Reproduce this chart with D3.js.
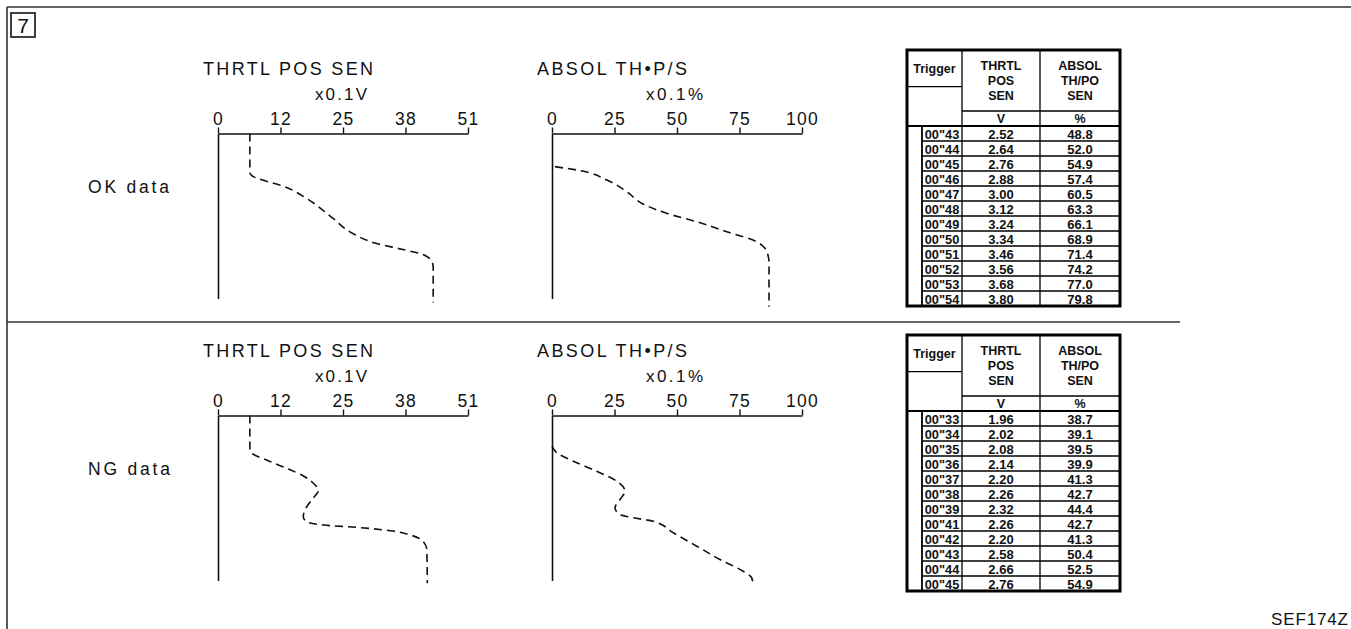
<!DOCTYPE html>
<html>
<head>
<meta charset="utf-8">
<script src="https://cdn.jsdelivr.net/npm/d3@7"></script>
<style>
  body { margin: 0; background: #fff; }
  svg { display: block; }
  text { font-family: "Liberation Sans", Arial, Helvetica, sans-serif; fill: #111; }
</style>
</head>
<body>
<div id="chart"></div>
<script>
// axis ticks (labels are rounded quarter points of the range)
const thrtlTicks = [0, 12.75, 25.5, 38.25, 51];
const thrtlTickLabels = ["0", "12", "25", "38", "51"];
const absolTicks = [0, 25, 50, 75, 100];
const absolTickLabels = ["0", "25", "50", "75", "100"];

// traces: [reading, time]  time runs 0..100 down the vertical axis
const okThrtlCurve = [[6.5,0],[6.5,23.6],[6.9,25.5],[14.0,32.7],[18.1,39.4],[23.5,51.5],[27.5,60.6],
  [32.4,66.7],[37.7,70.3],[41.8,73.3],[43.6,77.5],[43.9,81],[43.9,102.4]];
const okAbsolCurve = [[1.2,20.1],[11.2,22.5],[21.9,28.2],[29.9,35.3],[36.4,42.7],[45.9,48.4],[57.9,53.5],
  [69.9,59.5],[81.9,65.6],[85.2,69.6],[86.5,74.5],[86.8,78],[86.8,105]];
const ngThrtlCurve = [[6.5,0],[6.5,20.9],[6.9,22.9],[9.9,27.0],[14.0,32.0],[17.7,37.1],[19.8,42.1],
  [20.5,45.2],[19.4,50.2],[18.1,55.3],[17.4,61.3],[18.1,64.4],[21.5,66.4],[28.3,67.8],[35.1,69.8],
  [39.2,72.4],[41.9,76.5],[42.6,81.5],[42.7,101.7]];
const ngAbsolCurve = [[0,18.6],[1.9,22.6],[8.5,27.7],[17.9,33.8],[25.9,39.8],[29.2,45.9],[27.2,50.9],
  [25.2,55.9],[27.2,60.0],[32.5,62.0],[40.5,64.1],[48.5,71.1],[57.9,79.2],[67.2,87.3],[76.5,94.4],
  [79.9,98.4],[80.5,103.5]];

// freeze frame tables
const okTimes = ['00"43','00"44','00"45','00"46','00"47','00"48','00"49','00"50','00"51','00"52','00"53','00"54'];
const okThrtl = [2.52, 2.64, 2.76, 2.88, 3.00, 3.12, 3.24, 3.34, 3.46, 3.56, 3.68, 3.80];
const okAbsol = [48.8, 52.0, 54.9, 57.4, 60.5, 63.3, 66.1, 68.9, 71.4, 74.2, 77.0, 79.8];
const ngTimes = ['00"33','00"34','00"35','00"36','00"37','00"38','00"39','00"41','00"42','00"43','00"44','00"45'];
const ngThrtl = [1.96, 2.02, 2.08, 2.14, 2.20, 2.26, 2.32, 2.26, 2.20, 2.58, 2.66, 2.76];
const ngAbsol = [38.7, 39.1, 39.5, 39.9, 41.3, 42.7, 44.4, 42.7, 41.3, 50.4, 52.5, 54.9];

const width = 1351, height = 629;
const svg = d3.select("#chart").append("svg")
  .attr("width", width)
  .attr("height", height);

// frame
const frame = svg.append("g").attr("stroke", "#333").attr("stroke-width", 1.6);
frame.append("line").attr("x1", 7).attr("x2", width).attr("y1", 7).attr("y2", 7);
frame.append("line").attr("x1", 7).attr("x2", 7).attr("y1", 7).attr("y2", height);
frame.append("line").attr("x1", 7).attr("x2", 1180).attr("y1", 322).attr("y2", 322);

svg.append("rect").attr("x", 11).attr("y", 13).attr("width", 24).attr("height", 24)
  .attr("fill", "none").attr("stroke", "#111").attr("stroke-width", 1.6);
svg.append("text").attr("x", 23).attr("y", 32.5).attr("text-anchor", "middle")
  .attr("font-size", 21).text("7");

svg.append("text").attr("x", 1348).attr("y", 625).attr("text-anchor", "end")
  .attr("font-size", 17).attr("textLength", 77).attr("lengthAdjust", "spacing").text("SEF174Z");

const PW = 250, PH = 165;

function panel(x0, y0, o) {
  const g = svg.append("g");
  const xs = d3.scaleLinear().domain(o.domain).range([x0, x0 + PW]);
  const ys = d3.scaleLinear().domain([0, 100]).range([y0, y0 + PH]);

  g.append("text").attr("x", x0 + o.titleDx).attr("y", y0 - 59)
    .attr("font-size", 18).attr("textLength", o.titleW).attr("lengthAdjust", "spacing").text(o.title);
  g.append("text").attr("x", x0 + o.unitDx).attr("y", y0 - 34)
    .attr("font-size", 17).attr("textLength", o.unitW).attr("lengthAdjust", "spacing").text(o.unit);

  const ax = g.append("g").attr("transform", `translate(0,${y0})`)
    .call(d3.axisTop(xs).tickValues(o.ticks).tickFormat((d, i) => o.labels[i])
      .tickSize(6).tickSizeOuter(0).tickPadding(3));
  ax.select(".domain").attr("stroke", "#111").attr("stroke-width", 1.6);
  ax.selectAll(".tick line").attr("stroke", "#111").attr("stroke-width", 1.4);
  ax.selectAll(".tick text").attr("font-size", 17.5).attr("letter-spacing", "1.2px")
    .attr("font-family", null).attr("fill", "#111");

  const ay = g.append("g").attr("transform", `translate(${x0},0)`)
    .call(d3.axisLeft(ys).tickValues([]).tickSizeOuter(0));
  ay.select(".domain").attr("stroke", "#111").attr("stroke-width", 1.6);

  const line = d3.line().x(d => xs(d[0])).y(d => ys(d[1])).curve(d3.curveMonotoneY);
  g.append("path").datum(o.curve)
    .attr("d", line)
    .attr("fill", "none")
    .attr("stroke", "#111")
    .attr("stroke-width", 1.6)
    .attr("stroke-dasharray", "8,5");
}

const thrtlOpts = {domain: [0, 51], ticks: thrtlTicks, labels: thrtlTickLabels,
  title: "THRTL POS SEN", titleDx: -15, titleW: 170, unit: "x0.1V", unitDx: 97, unitW: 52};
const absolOpts = {domain: [0, 100], ticks: absolTicks, labels: absolTickLabels,
  title: "ABSOL TH\u2022P/S", titleDx: -15, titleW: 150, unit: "x0.1%", unitDx: 94, unitW: 57};

const rowsY = [133.5, 415.5];
panel(218, rowsY[0], {...thrtlOpts, curve: okThrtlCurve});
panel(552, rowsY[0], {...absolOpts, curve: okAbsolCurve});
panel(218, rowsY[1], {...thrtlOpts, curve: ngThrtlCurve});
panel(552, rowsY[1], {...absolOpts, curve: ngAbsolCurve});

svg.append("text").attr("x", 88).attr("y", 193).attr("font-size", 17.5)
  .attr("textLength", 81).attr("lengthAdjust", "spacing").text("OK data");
svg.append("text").attr("x", 88).attr("y", 475).attr("font-size", 17.5)
  .attr("textLength", 82).attr("lengthAdjust", "spacing").text("NG data");

// tables
function table(top, times, thr, abs) {
  const g = svg.append("g");
  const L = 907, R = 1120, C0 = 922, C1 = 962, C2 = 1040;
  const dataTop = top + 76;
  const rows = d3.scaleBand().domain(d3.range(times.length)).range([dataTop, dataTop + 15 * times.length]);
  const bottom = dataTop + 15 * times.length;
  const ln = (x1, y1, x2, y2, w) => g.append("line")
    .attr("x1", x1).attr("y1", y1).attr("x2", x2).attr("y2", y2)
    .attr("stroke", "#000").attr("stroke-width", w || 1.3);

  ln(C1, top, C1, bottom);
  ln(C2, top, C2, bottom);
  ln(C0, dataTop, C0, bottom, 1.8);
  ln(L, top + 36.7, C1, top + 36.7);
  ln(C1, top + 61, R, top + 61);
  ln(L, dataTop, R, dataTop, 1.8);
  times.forEach((t, i) => { if (i > 0) ln(C0, rows(i), R, rows(i)); });

  const txt = (x, y, s, fs) => g.append("text").attr("x", x).attr("y", y)
    .attr("text-anchor", "middle").attr("font-size", fs || 12.5).attr("font-weight", "bold").text(s);
  txt((L + C1) / 2, top + 23, "Trigger", 12.5);
  ["THRTL", "POS", "SEN"].forEach((s, i) => txt((C1 + C2) / 2, top + 20 + i * 15, s, 12.5));
  ["ABSOL", "TH/PO", "SEN"].forEach((s, i) => txt((C2 + R) / 2, top + 20 + i * 15, s, 12.5));
  txt((C1 + C2) / 2, top + 72.5, "V");
  txt((C2 + R) / 2, top + 72.5, "%");

  times.forEach((t, i) => {
    const y = rows(i) + 12.5;
    txt((C0 + C1) / 2, y, t, 12.8);
    txt((C1 + C2) / 2, y, d3.format(".2f")(thr[i]), 13);
    txt((C2 + R) / 2, y, d3.format(".1f")(abs[i]), 13);
  });

  g.append("rect").attr("x", L).attr("y", top).attr("width", R - L).attr("height", bottom - top)
    .attr("fill", "none").attr("stroke", "#000").attr("stroke-width", 3);
}

table(50, okTimes, okThrtl, okAbsol);
table(335, ngTimes, ngThrtl, ngAbsol);
</script>
</body>
</html>
